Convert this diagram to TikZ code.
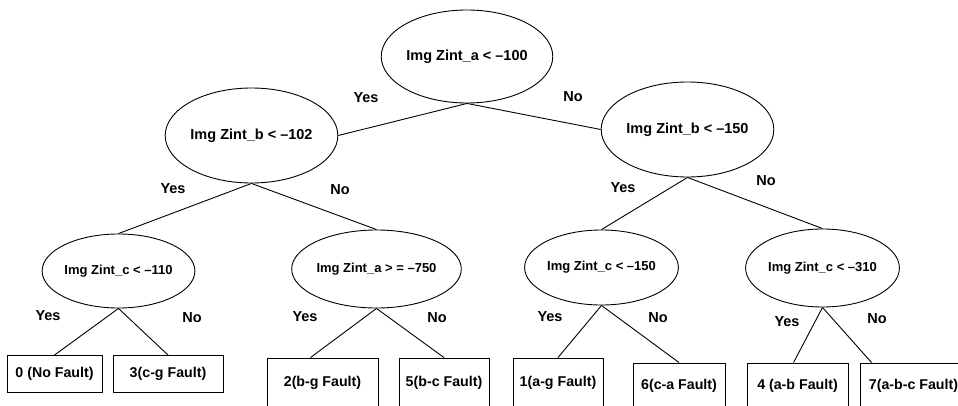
\documentclass[tikz,border=0pt]{standalone}
\usepackage{fontspec}
\setmainfont{Liberation Sans}
\usetikzlibrary{shapes.geometric, calc}

\begin{document}
\begin{tikzpicture}[
  x=1pt, y=-1pt,
  test/.style={ellipse, draw, line width=0.9pt, inner sep=0pt, font=\fontsize{14.5}{17}\selectfont\bfseries},
  subtest/.style={test, font=\fontsize{13}{15}\selectfont\bfseries},
  leaf/.style={rectangle, draw, line width=0.9pt, inner sep=0pt, minimum height=37pt, font=\fontsize{14.2}{17}\selectfont\bfseries},
  ans/.style={font=\fontsize{14.5}{17}\selectfont\bfseries},
  link/.style={line width=0.9pt},
]
  \useasboundingbox (0,0) rectangle (958,406);

  % Tests
  \node[test, minimum width=163pt, minimum height=93pt] (ra) at (467,56.5) {Img Zint\_a < --100};
  \node[test, minimum width=153pt, minimum height=95pt] (lb) at (251.5,135.5) {Img Zint\_b < --102};
  \node[test, minimum width=151pt, minimum height=95pt] (rb) at (687.5,129.5) {Img Zint\_b < --150};
  \node[subtest, minimum width=149pt, minimum height=74pt] (lc) at (118.5,271) {Img Zint\_c < --110};
  \node[subtest, minimum width=141pt, minimum height=78pt] (la) at (376.5,269) {Img Zint\_a > = --750};
  \node[subtest, minimum width=133pt, minimum height=75pt] (rc1) at (601.5,267.5) {Img Zint\_c < --150};
  \node[subtest, minimum width=129pt, minimum height=78pt] (rc2) at (822.5,268) {Img Zint\_c < --310};

  % Faults
  \node[leaf, minimum width=95pt] (f0) at (54.5,374) {0 (No Fault)};
  \node[leaf, minimum width=110pt] (f3) at (168,374) {3(c-g Fault)};
  \node[leaf, minimum width=111pt, minimum height=50pt] (f2) at (322.5,383) {2(b-g Fault)};
  \node[leaf, minimum width=90pt, minimum height=50pt] (f5) at (444,383) {5(b-c Fault)};
  \node[leaf, minimum width=90pt, minimum height=50pt] (f1) at (558,383) {1(a-g Fault)};
  \node[leaf, minimum width=92pt, minimum height=46pt] (f6) at (679,386) {6(c-a Fault)};
  \node[leaf, minimum width=101pt, minimum height=46pt] (f4) at (797.5,386) {4 (a-b Fault)};
  \node[leaf, minimum width=107pt, minimum height=46pt] (f7) at (913.5,386) {7(a-b-c Fault)};

  % Branches
  \draw[link] (ra.south) -- (lb.east);
  \draw[link] (ra.south) -- (rb.west);
  \draw[link] (lb.south) -- (lc.north);
  \draw[link] (lb.south) -- (la.north);
  \draw[link] (rb.south) -- (rc1.north);
  \draw[link] (rb.south) -- (rc2.north);
  \draw[link] (lc.south) -- (f0.north);
  \draw[link] (lc.south) -- (f3.north);
  \draw[link] (la.south) -- ($(f2.north)+(-12pt,0)$);
  \draw[link] (la.south) -- (f5.north);
  \draw[link] (rc1.south) -- (f1.north);
  \draw[link] (rc1.south) -- (f6.north);
  \draw[link] (rc2.south) -- ($(f4.north)+(-4pt,0)$);
  \draw[link] (rc2.south) -- ($(f7.north west)+(12pt,0)$);

  % Answers
  \foreach \x/\y/\t/\n in {366/98/Yes/y1, 573/97/No/n1, 173/189/Yes/y2, 340/190/No/n2,
                           623/188/Yes/y3, 766/181/No/n3, 48/316/Yes/y4, 192/318/No/n4,
                           305/317/Yes/y5, 437/318/No/n5, 550/317/Yes/y6, 658/318/No/n6,
                           787/322/Yes/y7, 877/319/No/n7} {
    \node[ans] (\n) at (\x,\y) {\t};
  }
\end{tikzpicture}
\end{document}
